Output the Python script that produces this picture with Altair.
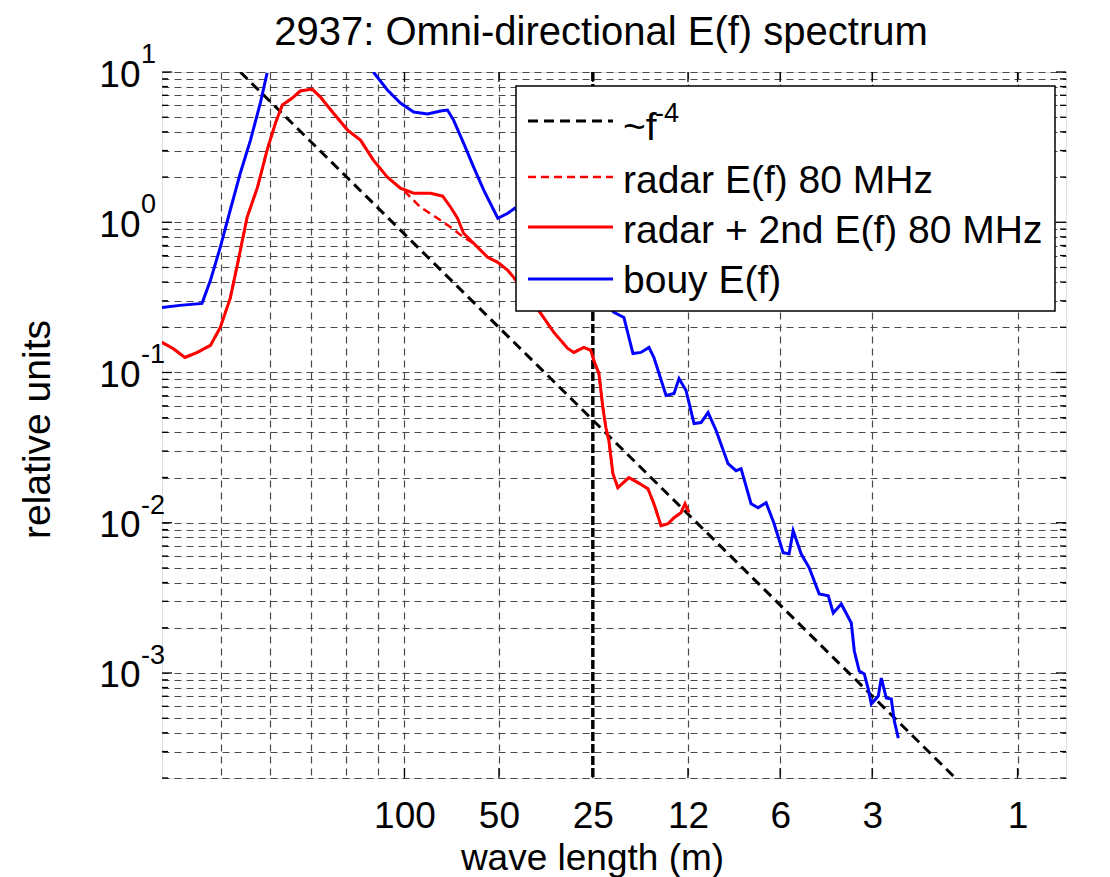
import json
import altair as alt
import pandas as pd

# ---------------- text ----------------
TITLE = "2937: Omni-directional E(f) spectrum"
X_TITLE = "wave length (m)"
Y_TITLE = "relative units"

# ---------------- axes ----------------
# x is frequency (Hz) on a log axis, labelled with the matching wave length
x_tick_f = [0.0996, 0.1421, 0.2023, 0.2894, 0.4094, 0.5788, 1.0]
x_tick_lab = ["100", "50", "25", "12", "6", "3", "1"]
x_minor_f = [0.05, 0.06, 0.07, 0.08, 0.09]
y_dec = [0.001, 0.01, 0.1, 1, 10]
y_dec_exp = ["-3", "-2", "-1", "0", "1"]
y_minor = [k * 10.0 ** n for n in (-4, -3, -2, -1, 0) for k in range(2, 10)]

# ---------------- series ----------------
series_names = ["~f", "radar E(f) 80 MHz", "radar + 2nd E(f) 80 MHz", "bouy E(f)"]
series_sup = ["-4", "", "", ""]
series_colors = ["#000000", "#ff0000", "#ff0000", "#0000ff"]
series_dash = [[10, 6], [8, 5], [1, 0], [1, 0]]
series_width = [3.0, 2.5, 3.0, 3.0]

# ~f^-4 reference line (end points)
f4_f = [0.0537, 0.7947]
f4_E = [10.0, 0.0001965]

# vertical marker
marker_f = [0.2023]

# radar + 2nd order E(f)
radar2_f = [0.04, 0.0417, 0.0436, 0.0457, 0.048, 0.0498, 0.0517, 0.0533, 0.0551, 0.0573,
            0.0594, 0.0613, 0.0629, 0.0653, 0.0673, 0.0704, 0.0726, 0.0762, 0.0804, 0.0844,
            0.0886, 0.0934, 0.0981, 0.1031, 0.1099, 0.115, 0.1185, 0.1216, 0.1244, 0.1292,
            0.1362, 0.1415, 0.1469, 0.1502, 0.1663, 0.1747, 0.1841, 0.1884, 0.1956, 0.2008,
            0.2031, 0.207, 0.2101, 0.2125, 0.2149, 0.2182, 0.2223, 0.2317, 0.2398, 0.2489,
            0.2546, 0.2615, 0.2685, 0.2746, 0.2819, 0.2862, 0.2905]
radar2_E = [0.1585, 0.1445, 0.1259, 0.136, 0.1514, 0.1995, 0.3113, 0.558, 1.08, 1.712,
            3.02, 4.571, 6.026, 6.707, 7.47, 7.70, 6.81, 5.33, 4.106, 3.522,
            2.591, 1.995, 1.686, 1.561, 1.561, 1.491, 1.259, 1.063, 0.845, 0.7244,
            0.5843, 0.5412, 0.4786, 0.43, 0.2473, 0.1848, 0.1445, 0.136, 0.1468, 0.1402,
            0.1202, 0.0985, 0.0584, 0.043, 0.0352, 0.0212, 0.0171, 0.01995, 0.01848, 0.01686,
            0.01339, 0.00955, 0.00985, 0.0108, 0.01166, 0.01339, 0.01166]

# radar (first order only) differs from the above only between these points
radar_dev_f = [0.0992, 0.1058, 0.1128, 0.1185, 0.1244]
radar_dev_E = [1.634, 1.259, 1.063, 0.926, 0.794]
radar_f = radar2_f[:23] + radar_dev_f + radar2_f[29:]
radar_E = radar2_E[:23] + radar_dev_E + radar2_E[29:]

# buoy E(f): part before it leaves the top of the plot, and part after
buoy_f_a = [0.04, 0.0428, 0.0465, 0.048, 0.0498, 0.0517, 0.0537, 0.0558, 0.0579, 0.0594]
buoy_E_a = [0.2712, 0.2797, 0.2884, 0.4106, 0.6813, 1.202, 2.121, 3.522, 6.214, 9.85]
buoy_f_b = [0.0886, 0.0934, 0.0981, 0.1031, 0.1086, 0.1141, 0.1171, 0.1198, 0.1244, 0.1292,
            0.1342, 0.1415, 0.1469, 0.1508, 0.219, 0.2274, 0.2353, 0.2424, 0.2499, 0.2546,
            0.2665, 0.2746, 0.2798, 0.2873, 0.2961, 0.304, 0.3121, 0.3217, 0.3365, 0.3468,
            0.3534, 0.3669, 0.3768, 0.3883, 0.4002, 0.414, 0.4234, 0.4299, 0.443, 0.4566,
            0.4741, 0.4906, 0.4999, 0.5152, 0.535, 0.5411, 0.5513, 0.5618, 0.5703, 0.5768,
            0.5922, 0.5989, 0.6103, 0.6219, 0.629, 0.6386]
buoy_E_b = [10.0, 7.586, 6.214, 5.412, 5.248, 5.495, 5.58, 4.786, 3.363, 2.326,
            1.634, 1.063, 1.148, 1.24, 0.2512, 0.2326, 0.1338, 0.136, 0.1468, 0.1259,
            0.0703, 0.0724, 0.0912, 0.0759, 0.0457, 0.0464, 0.0541, 0.0411, 0.0247, 0.0222,
            0.0229, 0.01339, 0.01259, 0.0136, 0.00985, 0.00631, 0.00621, 0.00885, 0.00621, 0.00501,
            0.00336, 0.00326, 0.00251, 0.00288, 0.00215, 0.0014, 0.00103, 0.000985, 0.000782, 0.000621,
            0.000703, 0.000926, 0.000681, 0.000671, 0.000479, 0.000369]

# ---------------- layout / style ----------------
W, H = 904, 706
FONT = "Liberation Sans"
FS_TICK = 37
FS_LEG = 39
FS_TITLE = 40
FS_XTITLE = 37
FS_SUP = 27
GRID_COL = "#4a4a4a"

xscale = alt.Scale(type="log", domain=[0.04, 1.2])
yscale = alt.Scale(type="log", domain=[0.0002, 10])

x_vals = x_minor_f + x_tick_f
y_vals = sorted(y_minor + y_dec)

x_label_expr = "%s[indexof(%s, datum.value)] || ''" % (
    json.dumps(x_tick_lab), json.dumps(x_tick_f))
y_label_expr = "indexof(%s, datum.value) >= 0 ? '10' : ''" % json.dumps(y_dec)

x_axis = alt.Axis(values=x_vals, labelExpr=x_label_expr, grid=True, gridDash=[7, 5],
                  gridColor=GRID_COL, gridWidth=1.2, gridOpacity=1, ticks=False, domain=False,
                  labelFont=FONT, labelFontSize=FS_TICK, labelColor="black", labelPadding=49,
                  labelOverlap=False, labelFlush=False, labelBaseline="alphabetic",
                  title=X_TITLE, titleFont=FONT, titleFontSize=FS_XTITLE, titleFontWeight="normal",
                  titleColor="black", titleX=430, titleY=91, titleBaseline="alphabetic",
                  titleAlign="center")
y_axis = alt.Axis(values=y_vals, labelExpr=y_label_expr, grid=True, gridDash=[7, 5],
                  gridColor=GRID_COL, gridWidth=1.2, gridOpacity=1, ticks=False, domain=False,
                  labelFont=FONT, labelFontSize=FS_TICK, labelColor="black", labelPadding=22,
                  labelOffset=3, labelOverlap=False, labelFlush=False,
                  title=Y_TITLE, titleFont=FONT, titleFontSize=39, titleFontWeight="normal",
                  titleColor="black", titleX=-113, titleY=357, titleAngle=-90,
                  titleBaseline="alphabetic", titleAlign="center")


def X():
    return alt.X("f:Q", scale=xscale, axis=x_axis)


def Y():
    return alt.Y("E:Q", scale=yscale, axis=y_axis)


layers = []

# f^-4 line
layers.append(alt.Chart(pd.DataFrame({"f": f4_f, "E": f4_E})).mark_line(
    color=series_colors[0], strokeDash=series_dash[0], strokeWidth=series_width[0], clip=True)
    .encode(x=X(), y=Y()))

# vertical marker
layers.append(alt.Chart(pd.DataFrame({"f": marker_f})).mark_rule(
    color="black", strokeDash=[9, 3], strokeWidth=3.4).encode(x=X()))

# radar (dashed)
layers.append(alt.Chart(pd.DataFrame({"f": radar_f, "E": radar_E})).mark_line(
    color=series_colors[1], strokeDash=series_dash[1], strokeWidth=series_width[1], clip=True)
    .encode(x=X(), y=Y()))

# radar + 2nd (solid)
layers.append(alt.Chart(pd.DataFrame({"f": radar2_f, "E": radar2_E})).mark_line(
    color=series_colors[2], strokeWidth=series_width[2], clip=True)
    .encode(x=X(), y=Y()))

# buoy
buoy_df = pd.DataFrame({"f": buoy_f_a + buoy_f_b, "E": buoy_E_a + buoy_E_b,
                        "seg": ["a"] * len(buoy_f_a) + ["b"] * len(buoy_f_b)})
layers.append(alt.Chart(buoy_df).mark_line(
    color=series_colors[3], strokeWidth=series_width[3], clip=True)
    .encode(x=X(), y=Y(), detail="seg:N"))

# inward ticks (box style)
for xa, xb, vals in [(0, 10, y_dec), (0, 6, y_minor), (W, W - 10, y_dec), (W, W - 6, y_minor)]:
    layers.append(alt.Chart(pd.DataFrame({"E": vals})).mark_rule(color="black", strokeWidth=1.3)
                  .encode(y=Y(), x=alt.value(xa), x2=alt.value(xb)))
for ya, yb in [(H, H - 10), (0, 10)]:
    layers.append(alt.Chart(pd.DataFrame({"f": x_tick_f})).mark_rule(color="black", strokeWidth=1.3)
                  .encode(x=X(), y=alt.value(ya), y2=alt.value(yb)))

# exponents of the y tick labels (10^n)
layers.append(alt.Chart(pd.DataFrame({"E": y_dec, "exp": y_dec_exp})).mark_text(
    font=FONT, fontSize=FS_SUP, align="left", baseline="alphabetic", color="black", dy=-9)
    .encode(y=Y(), x=alt.value(-21), text="exp:N"))

# legend box
LX0, LX1, LY0, LY1 = 354, 893, 14, 239
layers.append(alt.Chart(pd.DataFrame({"k": [0]})).mark_rect(
    fill="white", stroke="black", strokeWidth=1.5)
    .encode(x=alt.value(LX0), x2=alt.value(LX1), y=alt.value(LY0), y2=alt.value(LY1)))
row_line_y = [49, 105, 155, 207]
row_text_y = [68, 121, 171, 221]
for i, name in enumerate(series_names):
    layers.append(alt.Chart(pd.DataFrame({"k": [0]})).mark_rule(
        color=series_colors[i], strokeDash=series_dash[i], strokeWidth=series_width[i])
        .encode(x=alt.value(LX0 + 12), x2=alt.value(LX0 + 97), y=alt.value(row_line_y[i])))
    layers.append(alt.Chart(pd.DataFrame({"label": [name]})).mark_text(
        font=FONT, fontSize=FS_LEG, align="left", baseline="alphabetic", color="black")
        .encode(text="label:N", x=alt.value(LX0 + 107), y=alt.value(row_text_y[i])))
    if series_sup[i]:
        layers.append(alt.Chart(pd.DataFrame({"label": [series_sup[i]]})).mark_text(
            font=FONT, fontSize=FS_SUP, align="left", baseline="alphabetic", color="black")
            .encode(text="label:N", x=alt.value(LX0 + 139), y=alt.value(row_text_y[i] - 18)))

# title
layers.append(alt.Chart(pd.DataFrame({"t": [TITLE]})).mark_text(
    font=FONT, fontSize=FS_TITLE, align="center", baseline="alphabetic", color="black")
    .encode(text="t:N", x=alt.value(439), y=alt.value(-27)))

chart = alt.layer(*layers).properties(
    width=W, height=H,
    autosize=alt.AutoSizeParams(type="none"),
    padding={"left": 154, "top": 64, "right": 36, "bottom": 99},
).configure_view(stroke="black", strokeWidth=1.5).configure(background="white")

chart.save("out.html", embed_options={"renderer": "svg", "actions": False})
